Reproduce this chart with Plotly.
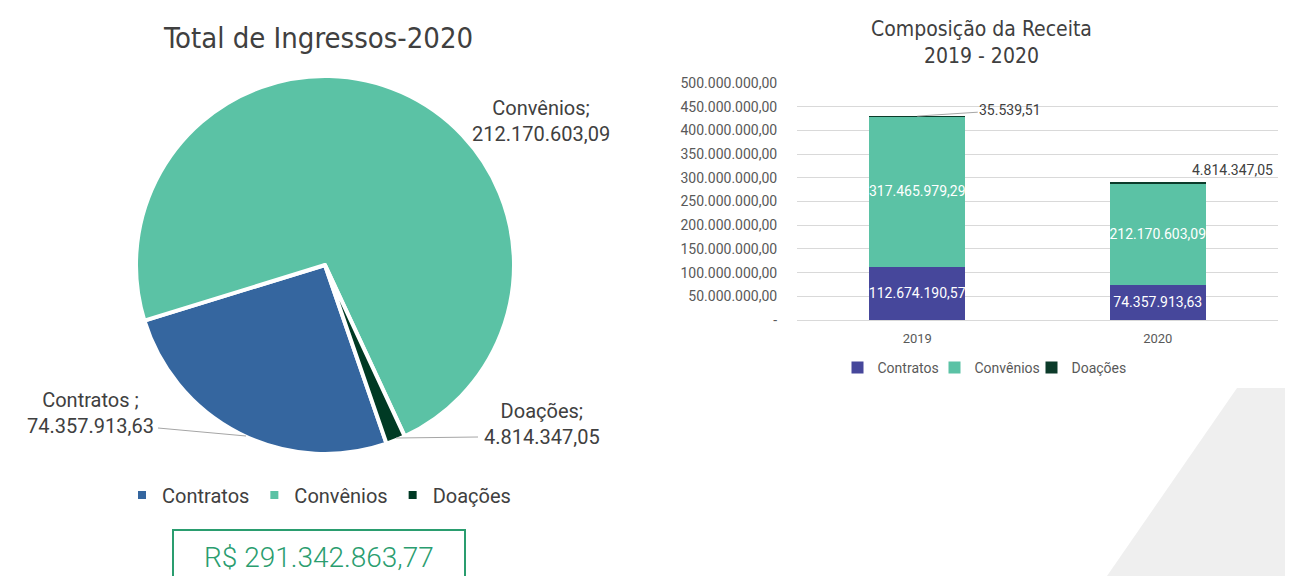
import plotly.graph_objects as go

# pie: Total de Ingressos 2020
pie_labels = ["Contratos", "Convênios", "Doações"]
pie_values = [74357913.63, 212170603.09, 4814347.05]
pie_colors = ["#35669F", "#5BC2A5", "#003A24"]
pie_total = "R$ 291.342.863,77"

# stacked bars: Composição da Receita
years = ["2019", "2020"]
contratos = [112674190.57, 74357913.63]
convenios = [317465979.29, 212170603.09]
doacoes = [35539.51, 4814347.05]
y_ticks = [0, 50e6, 100e6, 150e6, 200e6, 250e6, 300e6, 350e6, 400e6, 450e6, 500e6]

# page body has an 8px margin, so the figure is drawn from (8, 8)
OFF = 8
W, H = 1293 - OFF, 576 - OFF
COND = "DejaVu Sans Condensed, Liberation Sans Narrow, Roboto"


def br(v):
    s = f"{v:,.2f}"
    return s.replace(",", "X").replace(".", ",").replace("X", ".")


def px(x):
    return (x - OFF) / W


def py(y):
    return 1 - (y - OFF) / H


fig = go.Figure()

fig.add_trace(go.Pie(
    labels=pie_labels, values=pie_values, sort=False, direction="clockwise",
    rotation=161, textinfo="none",
    marker=dict(colors=pie_colors, line=dict(color="white", width=4)),
    domain=dict(x=[px(136), px(514)], y=[py(454), py(76)]),
    legend="legend", hoverinfo="label+value",
))

bar_series = [("Contratos", contratos, "#46479B", True),
              ("Convênios", convenios, "#5BC2A5", True),
              ("Doações", doacoes, "#0C3B2A", False)]
for name, vals, col, lab in bar_series:
    fig.add_trace(go.Bar(
        x=years, y=vals, name=name, marker=dict(color=col, line=dict(width=0)),
        text=[br(v) for v in vals] if lab else None,
        textposition="inside", insidetextanchor="middle", textangle=0,
        constraintext="none",
        insidetextfont=dict(family="Roboto", size=14, color="white"),
        legend="legend2", xaxis="x", yaxis="y",
    ))

totals = [a + b + c for a, b, c in zip(contratos, convenios, doacoes)]

lbl = dict(family="Roboto", size=20, color="#404040")
ann = [
    dict(text="Total de Ingressos-2020", x=px(318), y=py(38), xref="paper", yref="paper",
         xanchor="center", yanchor="middle", showarrow=False,
         font=dict(family=COND, size=29, color="#404040")),
    dict(text="Composição da Receita<br>2019 - 2020", x=px(981), y=py(42), xref="paper", yref="paper",
         xanchor="center", yanchor="middle", showarrow=False,
         font=dict(family=COND, size=21, color="#404040")),
    dict(text=f"{pie_labels[1]};<br>{br(pie_values[1])}", x=px(541), y=py(121), xref="paper", yref="paper",
         xanchor="center", yanchor="middle", showarrow=False, font=lbl),
    dict(text=f"{pie_labels[0]} ;<br>{br(pie_values[0])}", x=px(90), y=py(413), xref="paper", yref="paper",
         xanchor="center", yanchor="middle", showarrow=False, font=lbl),
    dict(text=f"{pie_labels[2]};<br>{br(pie_values[2])}", x=px(542), y=py(424), xref="paper", yref="paper",
         xanchor="center", yanchor="middle", showarrow=False, font=lbl),
    dict(text=pie_total, x=px(319), y=py(557), xref="paper", yref="paper",
         xanchor="center", yanchor="middle", showarrow=False,
         font=dict(family="Roboto", size=28, color="#2A9D6F", weight=300)),
    # category axis: annotation x given as category index
    dict(text=br(doacoes[0]), x=0, y=totals[0], xref="x", yref="y",
         showarrow=True, arrowhead=0, arrowwidth=1, arrowcolor="#A6A6A6",
         ax=93, ay=-6, font=dict(family="Roboto", size=14, color="#404040")),
    dict(text=br(doacoes[1]), x=1, y=totals[1], xref="x", yref="y",
         showarrow=False, xanchor="left", yanchor="bottom", xshift=32, yshift=2,
         font=dict(family="Roboto", size=14, color="#404040")),
]

shapes = [
    dict(type="path", xref="paper", yref="paper", layer="below",
         path=f"M {px(1237)},{py(388)} L 1,{py(388)} L 1,0 L {px(1107)},0 Z",
         fillcolor="#EFEFEF", line=dict(width=0)),
    dict(type="line", xref="paper", yref="paper", x0=px(158), y0=py(428), x1=px(246), y1=py(436),
         line=dict(color="#A6A6A6", width=1)),
    dict(type="line", xref="paper", yref="paper", x0=px(396), y0=py(438), x1=px(478), y1=py(437),
         line=dict(color="#A6A6A6", width=1)),
    dict(type="rect", xref="paper", yref="paper", x0=px(173), y0=-0.05, x1=px(465), y1=py(530),
         line=dict(color="#2A9D6F", width=2), fillcolor="rgba(0,0,0,0)"),
]

fig.update_layout(
    width=W, height=H, margin=dict(l=0, r=0, t=0, b=0, autoexpand=False),
    paper_bgcolor="white", plot_bgcolor="white",
    separators=",.", barmode="stack", bargap=0.6,
    xaxis=dict(domain=[px(797), px(1278)], type="category", range=[-0.5, 1.5],
               showgrid=False, showline=True,
               linecolor="#D9D9D9", ticks="outside", ticklen=6, tickcolor="rgba(0,0,0,0)",
               tickfont=dict(family="Roboto", size=13, color="#595959")),
    yaxis=dict(domain=[py(320), py(83)], range=[0, 500e6], tickvals=y_ticks,
               ticktext=["-" if v == 0 else br(v) for v in y_ticks],
               showgrid=True, gridcolor="#D9D9D9", zeroline=False,
               ticks="outside", ticklen=16, tickcolor="rgba(0,0,0,0)",
               tickfont=dict(family="Roboto", size=14, color="#595959")),
    legend=dict(orientation="h", x=px(319), xanchor="center", y=py(495), yanchor="middle",
                font=dict(family="Roboto", size=20, color="#404040"), bgcolor="rgba(0,0,0,0)",
                traceorder="normal"),
    legend2=dict(orientation="h", x=px(983), xanchor="center", y=py(368), yanchor="middle",
                 font=dict(family="Roboto", size=14, color="#595959"), bgcolor="rgba(0,0,0,0)",
                 traceorder="normal", entrywidth=52),
    annotations=ann, shapes=shapes,
)

fig.write_html("out.html")
